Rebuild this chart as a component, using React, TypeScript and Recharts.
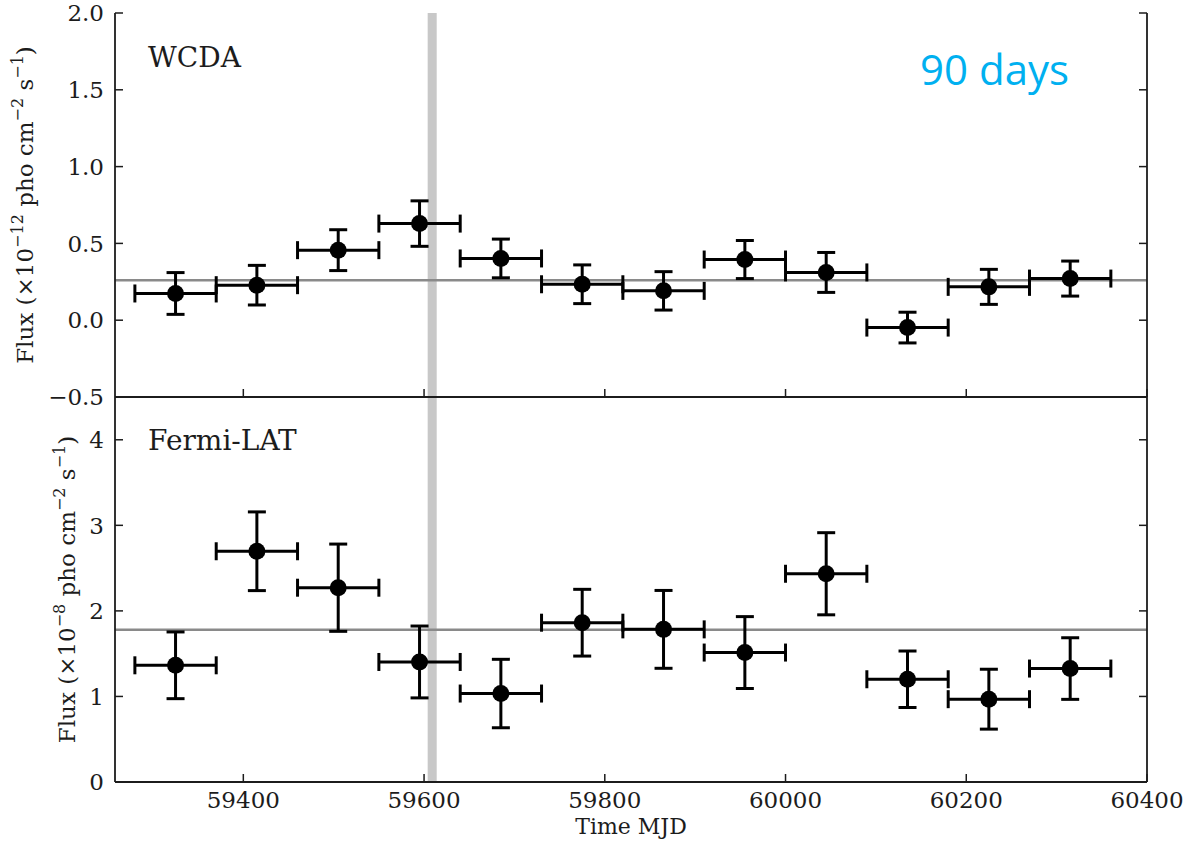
import React from 'react';
import { ScatterChart, Scatter, ErrorBar, XAxis, YAxis, ReferenceLine, ReferenceArea } from 'recharts';

// 90-day bins, centre of each bin (MJD)
const mjd = [59325, 59415, 59505, 59595, 59685, 59775, 59865, 59955, 60045, 60135, 60225, 60315];
const binHalfWidth = [45, 45, 45, 45, 45, 45, 45, 45, 45, 45, 45, 45];

// WCDA flux, x1e-12 pho cm^-2 s^-1
const wcdaFlux = [0.174, 0.228, 0.456, 0.629, 0.402, 0.234, 0.191, 0.395, 0.311, -0.048, 0.217, 0.271];
const wcdaErr = [0.136, 0.129, 0.133, 0.148, 0.126, 0.126, 0.125, 0.124, 0.13, 0.1, 0.114, 0.114];

// Fermi-LAT flux, x1e-8 pho cm^-2 s^-1
const latFlux = [1.364, 2.697, 2.271, 1.403, 1.034, 1.862, 1.784, 1.513, 2.434, 1.201, 0.968, 1.326];
const latErr = [0.39, 0.46, 0.51, 0.42, 0.4, 0.39, 0.455, 0.42, 0.48, 0.33, 0.35, 0.36];

const wcdaMean = 0.26;
const latMean = 1.78;
const flareStart = 59604;
const flareEnd = 59614;

const xDomain = [59258, 60400];
const xTicks = [59400, 59600, 59800, 60000, 60200, 60400];
const wcdaDomain = [-0.5, 2.0];
const wcdaTicks = [-0.5, 0, 0.5, 1.0, 1.5, 2.0];
const latDomain = [0, 4.5];
const latTicks = [0, 1, 2, 3, 4];

const wcdaRows = mjd.map((m, i) => ({ mjd: m, flux: wcdaFlux[i], xErr: binHalfWidth[i], yErr: wcdaErr[i] }));
const latRows = mjd.map((m, i) => ({ mjd: m, flux: latFlux[i], xErr: binHalfWidth[i], yErr: latErr[i] }));

// layout
const W = 1188;
const H = 846;
const PLOT_LEFT = 115;
const PLOT_RIGHT = 1147;
const TOP_Y0 = 13;
const SPLIT = 397;
const BOTTOM_Y1 = 782;

const SERIF = '"DejaVu Serif", serif';
const INK = '#1c1c1c';
const TICK_LEN = 8;
const TICK_FONT = 23;

const fmtWcda = (v: number) => (v < 0 ? '\u2212' + Math.abs(v).toFixed(1) : v.toFixed(1));

const xTick = (dir: number, withLabel: boolean) => (props: any) => {
  const { x, y, payload } = props;
  return (
    <g>
      <line x1={x} y1={y} x2={x} y2={y + dir * TICK_LEN} stroke={INK} strokeWidth={1.5} />
      {withLabel && (
        <text x={x} y={y + 26} textAnchor="middle" fontSize={TICK_FONT} fontFamily={SERIF} fill={INK}>
          {payload.value}
        </text>
      )}
    </g>
  );
};

const yTick = (dir: number, fmt?: (v: number) => string) => (props: any) => {
  const { x, y, payload } = props;
  return (
    <g>
      <line x1={x} y1={y} x2={x + dir * TICK_LEN} y2={y} stroke={INK} strokeWidth={1.5} />
      {fmt && (
        <text x={x - 11} y={y} dy="0.36em" textAnchor="end" fontSize={TICK_FONT} fontFamily={SERIF} fill={INK}>
          {fmt(payload.value)}
        </text>
      )}
    </g>
  );
};

const Dot = (props: any) => <circle cx={props.cx} cy={props.cy} r={8.5} fill="#000" />;

const axisLine = { stroke: INK, strokeWidth: 1.8 };

const FluxTitle = ({ x, y, exp }: { x: number; y: number; exp: string }) => (
  <text
    x={x}
    y={y}
    transform={`rotate(-90 ${x} ${y})`}
    textAnchor="middle"
    fontSize={23}
    fontFamily={SERIF}
    fill={INK}
  >
    <tspan>Flux (×10</tspan>
    <tspan fontSize={16} dy={-10}>{'\u2212' + exp}</tspan>
    <tspan dy={10}> pho cm</tspan>
    <tspan fontSize={16} dy={-10}>{'\u2212'}2</tspan>
    <tspan dy={10}> s</tspan>
    <tspan fontSize={16} dy={-10}>{'\u2212'}1</tspan>
    <tspan dy={10}>)</tspan>
  </text>
);

const Panel = ({
  rows,
  height,
  marginTop,
  bottomAxisHeight,
  yDomain,
  yTicks,
  fmt,
  mean,
  labelBottom,
}: any) => (
  <ScatterChart
    width={W}
    height={height}
    margin={{ top: marginTop, right: 0, bottom: 0, left: 0 }}
  >
    <XAxis
      xAxisId="b"
      dataKey="mjd"
      type="number"
      orientation="bottom"
      domain={xDomain}
      ticks={xTicks}
      interval={0}
      allowDataOverflow
      height={bottomAxisHeight}
      tickSize={0}
      tickMargin={0}
      tickLine={false}
      axisLine={axisLine}
      tick={xTick(-1, labelBottom)}
    />
    <XAxis
      xAxisId="t"
      dataKey="mjd"
      type="number"
      orientation="top"
      domain={xDomain}
      ticks={xTicks}
      interval={0}
      allowDataOverflow
      height={0}
      tickSize={0}
      tickMargin={0}
      tickLine={false}
      axisLine={axisLine}
      tick={xTick(1, false)}
    />
    <YAxis
      yAxisId="l"
      dataKey="flux"
      type="number"
      orientation="left"
      domain={yDomain}
      ticks={yTicks}
      interval={0}
      allowDataOverflow
      width={PLOT_LEFT}
      tickSize={0}
      tickMargin={0}
      tickLine={false}
      axisLine={axisLine}
      tick={yTick(1, fmt)}
    />
    <YAxis
      yAxisId="r"
      dataKey="flux"
      type="number"
      orientation="right"
      domain={yDomain}
      ticks={yTicks}
      interval={0}
      allowDataOverflow
      width={W - PLOT_RIGHT}
      tickSize={0}
      tickMargin={0}
      tickLine={false}
      axisLine={axisLine}
      tick={yTick(-1)}
    />
    <ReferenceArea
      xAxisId="b"
      yAxisId="l"
      x1={flareStart}
      x2={flareEnd}
      fill="#c8c8c8"
      fillOpacity={1}
      stroke="none"
    />
    <ReferenceLine xAxisId="b" yAxisId="l" y={mean} stroke="#8a8a8a" strokeWidth={2.5} />
    <Scatter xAxisId="b" yAxisId="l" data={rows} shape={Dot} isAnimationActive={false}>
      <ErrorBar dataKey="xErr" direction="x" width={9} strokeWidth={3} stroke="#000" isAnimationActive={false} />
      <ErrorBar dataKey="yErr" direction="y" width={9} strokeWidth={3} stroke="#000" isAnimationActive={false} />
    </Scatter>
  </ScatterChart>
);

const BOTTOM_DIV_TOP = 390;
const TOP_EXTRA = 24;

export default function App() {
  return (
    <div style={{ position: 'absolute', left: 0, top: 0, width: W, height: H, background: '#fff' }}>
      <div style={{ position: 'absolute', left: 0, top: BOTTOM_DIV_TOP }}>
        <Panel
          rows={latRows}
          height={H - BOTTOM_DIV_TOP}
          marginTop={SPLIT - BOTTOM_DIV_TOP}
          bottomAxisHeight={H - BOTTOM_Y1}
          yDomain={latDomain}
          yTicks={latTicks}
          fmt={(v: number) => String(v)}
          mean={latMean}
          labelBottom={true}
        />
      </div>
      <div style={{ position: 'absolute', left: 0, top: 0 }}>
        <Panel
          rows={wcdaRows}
          height={SPLIT + TOP_EXTRA}
          marginTop={TOP_Y0}
          bottomAxisHeight={TOP_EXTRA}
          yDomain={wcdaDomain}
          yTicks={wcdaTicks}
          fmt={fmtWcda}
          mean={wcdaMean}
          labelBottom={false}
        />
      </div>
      <svg width={W} height={H} style={{ position: 'absolute', left: 0, top: 0, pointerEvents: 'none' }}>
        <FluxTitle x={33} y={(TOP_Y0 + SPLIT) / 2} exp="12" />
        <FluxTitle x={75} y={(SPLIT + BOTTOM_Y1) / 2} exp="8" />
        <text x={(PLOT_LEFT + PLOT_RIGHT) / 2} y={834} textAnchor="middle" fontSize={22} fontFamily={SERIF} fill={INK}>
          Time MJD
        </text>
        <text x={148} y={67} fontSize={28} fontFamily={SERIF} fill={INK}>
          WCDA
        </text>
        <text x={148} y={450} fontSize={28} fontFamily={SERIF} fill={INK}>
          Fermi-LAT
        </text>
        <text x={920} y={85} fontSize={42} fontFamily='"Open Sans", sans-serif' fill="#00b0f0">
          90 days
        </text>
      </svg>
    </div>
  );
}
